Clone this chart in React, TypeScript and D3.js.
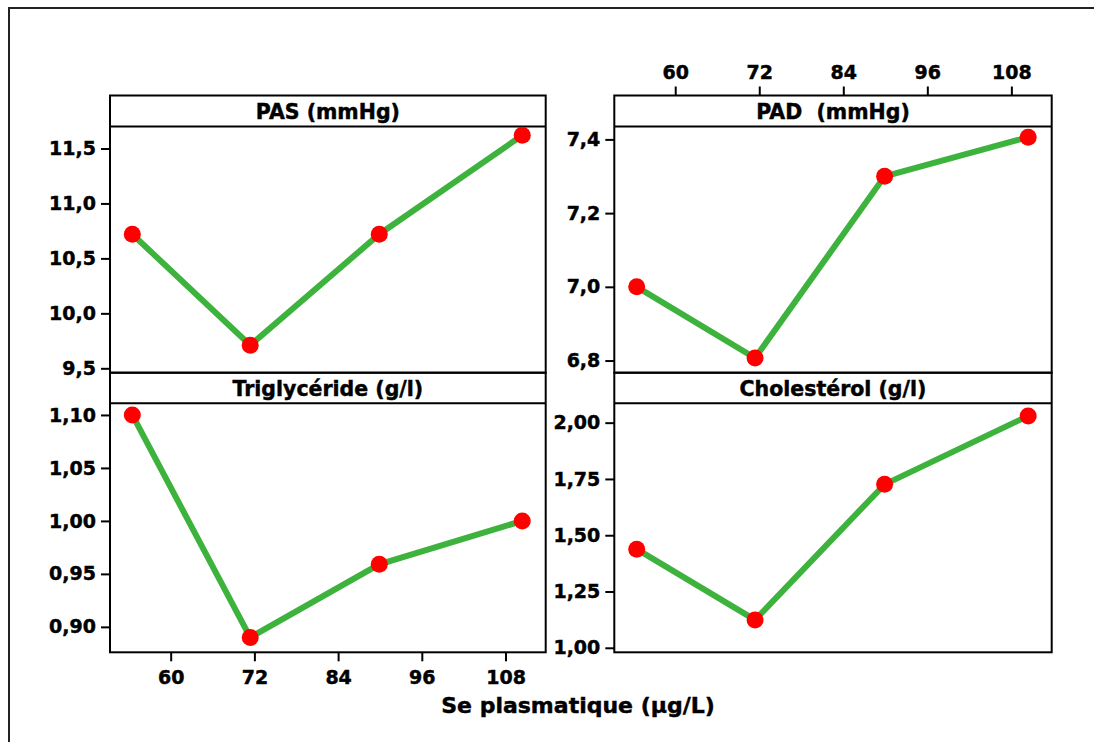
import { useEffect, useRef } from 'react';
import * as d3 from 'd3';

// ── données ─────────────────────────────────────────────
const seLevels = [54.5, 71.4, 89.9, 110.4];
const pas = [10.72, 9.71, 10.72, 11.62];
const pad = [7.0, 6.807, 7.3, 7.406];
const trig = [1.1, 0.89, 0.959, 1.0];
const chol = [1.438, 1.124, 1.726, 2.03];

const xTicks = [60, 72, 84, 96, 108];
const pasTicks = [9.5, 10.0, 10.5, 11.0, 11.5];
const padTicks = [6.8, 7.0, 7.2, 7.4];
const trigTicks = [0.9, 0.95, 1.0, 1.05, 1.1];
const cholTicks = [1.0, 1.25, 1.5, 1.75, 2.0];

const W = 1094, H = 742;
const FONT = '"DejaVu Sans", Verdana, sans-serif';
const GREEN = '#3db33d';

const panels = [
  { title: 'PAS (mmHg)', values: pas, ticks: pasTicks, dom: [9.46, 11.7], fmt: 1, col: 0, row: 0, xAxis: null },
  { title: 'PAD  (mmHg)', values: pad, ticks: padTicks, dom: [6.767, 7.435], fmt: 1, col: 1, row: 0, xAxis: 'top' },
  { title: 'Triglycéride (g/l)', values: trig, ticks: trigTicks, dom: [0.876, 1.111], fmt: 2, col: 0, row: 1, xAxis: 'bottom' },
  { title: 'Cholestérol (g/l)', values: chol, ticks: cholTicks, dom: [0.98, 2.086], fmt: 2, col: 1, row: 1, xAxis: null },
];

// texte gras un peu plus épais (type Tahoma)
const heavy = (sel: any, size: number) =>
  sel.attr('font-family', FONT).attr('font-weight', 'bold').attr('font-size', size)
    .attr('fill', '#000').attr('stroke', '#000').attr('stroke-width', 0.45);

export default function App() {
  const ref = useRef<SVGSVGElement>(null);

  useEffect(() => {
    const svg = d3.select(ref.current);
    svg.selectAll('*').remove();

    svg.append('rect').attr('width', W).attr('height', H).attr('fill', '#fff');
    // cadre extérieur
    svg.append('rect')
      .attr('x', 9).attr('y', 8).attr('width', W + 20).attr('height', H + 20)
      .attr('fill', 'none').attr('stroke', '#222').attr('stroke-width', 2);

    const colX = [[110, 545.7], [614.3, 1051.7]];
    const rowY = [[95.5, 126.5, 372.7], [372.7, 403.3, 652.3]];

    panels.forEach(p => {
      const [x0, x1] = colX[p.col];
      const [hy0, py0, py1] = rowY[p.row];
      const x = d3.scaleLinear().domain([51.3, 113.76]).range([x0, x1]);
      const y = d3.scaleLinear().domain(p.dom).range([py1, py0]);
      const g = svg.append('g');

      // zone du graphique + en-tête
      g.append('rect').attr('x', x0).attr('y', hy0).attr('width', x1 - x0).attr('height', py1 - hy0)
        .attr('fill', 'none').attr('stroke', '#000').attr('stroke-width', 2);
      g.append('line').attr('x1', x0).attr('x2', x1).attr('y1', py0).attr('y2', py0)
        .attr('stroke', '#000').attr('stroke-width', 2);
      heavy(g.append('text').attr('x', (x0 + x1) / 2).attr('y', (hy0 + py0) / 2 + 7.5)
        .attr('text-anchor', 'middle').style('white-space', 'pre').text(p.title), 20.5);

      // axe Y
      const yAxis = g.append('g').attr('transform', `translate(${x0},0)`)
        .call(d3.axisLeft(y).tickValues(p.ticks).tickSize(9).tickPadding(5)
          .tickFormat(d => (+d).toFixed(p.fmt).replace('.', ',')));
      yAxis.select('.domain').remove();
      yAxis.selectAll('line').attr('stroke', '#000').attr('stroke-width', 2);
      heavy(yAxis.selectAll('text'), 19);

      // axe X
      if (p.xAxis) {
        const top = p.xAxis === 'top';
        const ax = top ? d3.axisTop(x) : d3.axisBottom(x);
        const xa = g.append('g').attr('transform', `translate(0,${top ? hy0 : py1})`)
          .call(ax.tickValues(xTicks).tickSize(9).tickPadding(top ? 8 : 9).tickFormat(d3.format('d')));
        xa.select('.domain').remove();
        xa.selectAll('line').attr('stroke', '#000').attr('stroke-width', 2);
        heavy(xa.selectAll('text'), 19);
      }

      const pts = seLevels.map((s, i) => [s, p.values[i]] as [number, number]);
      g.append('path').datum(pts)
        .attr('d', d3.line<[number, number]>().x(d => x(d[0])).y(d => y(d[1])))
        .attr('fill', 'none').attr('stroke', GREEN).attr('stroke-width', 6);
      g.selectAll('circle.pt').data(pts).join('circle')
        .attr('cx', d => x(d[0])).attr('cy', d => y(d[1])).attr('r', 8.5).attr('fill', '#ff0000');
    });

    heavy(svg.append('text').attr('x', 578).attr('y', 713).attr('text-anchor', 'middle')
      .text('Se plasmatique (µg/L)'), 22);
  }, []);

  return <svg ref={ref} width={W} height={H} style={{ position: 'absolute', left: 0, top: 0 }} />;
}
